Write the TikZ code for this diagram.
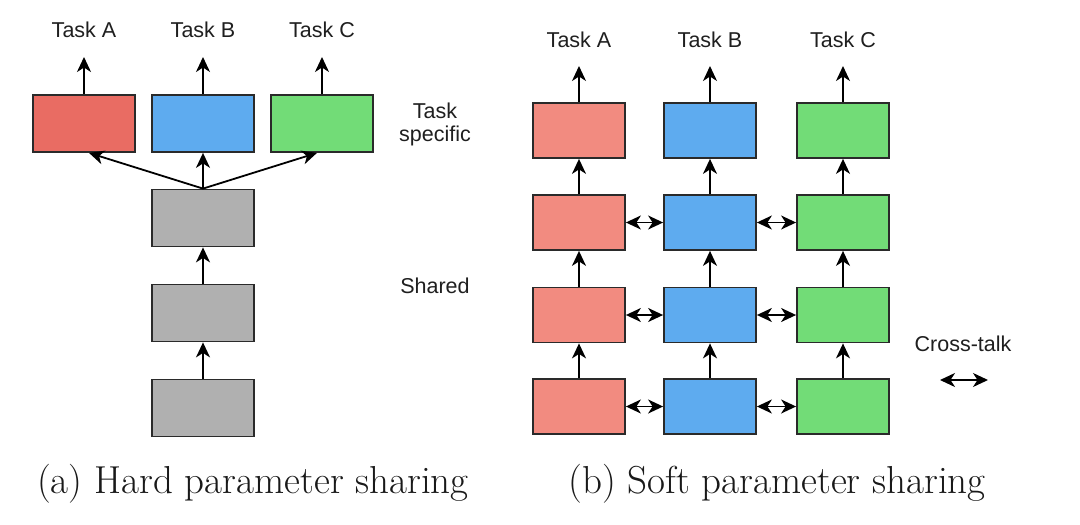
\documentclass[tikz,border=0pt]{standalone}
\usepackage{fontspec}
\setsansfont{Liberation Sans}
\usetikzlibrary{arrows.meta,calc}
\definecolor{hred}{HTML}{E96C63}
\definecolor{sred}{HTML}{F28B80}
\definecolor{cblue}{HTML}{5EABEF}
\definecolor{cgreen}{HTML}{72DC77}
\definecolor{cgray}{HTML}{B0B0B0}
\definecolor{edge}{HTML}{2A2A2A}
\begin{document}
\begin{tikzpicture}[x=1pt,y=-1pt,
  hbox/.style={draw=edge,line width=1.8pt,minimum width=102pt,minimum height=57pt,inner sep=0pt},
  sbox/.style={draw=edge,line width=1.8pt,minimum width=92pt,minimum height=55pt,inner sep=0pt},
  lab/.style={font=\sffamily\fontsize{21.5}{24}\selectfont,text=black!88,inner sep=0pt},
  captxt/.style={font=\fontsize{39}{44}\selectfont,text=black!90,inner sep=0pt},
  arr/.style={line width=1.8pt,-{Stealth[length=15pt,width=14pt,inset=4.5pt]}},
  darr/.style={line width=1.8pt,{Stealth[length=15pt,width=14pt,inset=4.5pt]}-{Stealth[length=15pt,width=14pt,inset=4.5pt]}}
]
\useasboundingbox[fill=white] (0,0) rectangle (1080,525);

% ---------- (a) hard sharing ----------
\node[hbox,fill=hred]   (ha) at (84,123.5) {};
\node[hbox,fill=cblue]  (hb) at (203,123.5) {};
\node[hbox,fill=cgreen] (hc) at (322,123.5) {};
\node[hbox,fill=cgray]  (g1) at (203,218) {};
\node[hbox,fill=cgray]  (g2) at (203,313) {};
\node[hbox,fill=cgray]  (g3) at (203,408) {};

\node[lab] (lta) at (84,30) {Task A};
\node[lab] (ltb) at (203,30) {Task B};
\node[lab] (ltc) at (322,30) {Task C};
\coordinate (ea) at (84,57);
\coordinate (eb) at (203,57);
\coordinate (ec) at (322,57);
\draw[arr] (ha.north) -- (ea);
\draw[arr] (hb.north) -- (eb);
\draw[arr] (hc.north) -- (ec);

\draw[arr] (g1.north) -- ($(ha.south)+(5,0)$);
\draw[arr] (g1.north) -- (hb.south);
\draw[arr] (g1.north) -- ($(hc.south)+(-5,0)$);
\draw[arr] (g2.north) -- (g1.south);
\draw[arr] (g3.north) -- (g2.south);

\node[lab,align=center] (tspec) at (435,124) {Task\\[-1pt]specific};
\node[lab] (shared) at (435,286) {Shared};

\node[captxt] (capa) at (253,484) {(a) Hard parameter sharing};

% ---------- (b) soft sharing ----------
\foreach \r/\y in {1/130.5,2/222.5,3/315,4/406.5}{
  \node[sbox,fill=sred]   (r\r) at (579,\y) {};
  \node[sbox,fill=cblue]  (b\r) at (710,\y) {};
  \node[sbox,fill=cgreen] (c\r) at (843,\y) {};
}
\node[lab] (sta) at (579,40) {Task A};
\node[lab] (stb) at (710,40) {Task B};
\node[lab] (stc) at (843,40) {Task C};
\coordinate (sa) at (579,66);
\coordinate (sb) at (710,66);
\coordinate (sc) at (843,66);
\draw[arr] (r1.north) -- (sa);
\draw[arr] (b1.north) -- (sb);
\draw[arr] (c1.north) -- (sc);

\foreach \lo/\hi in {2/1,3/2,4/3}{
  \draw[arr] (r\lo.north) -- (r\hi.south);
  \draw[arr] (b\lo.north) -- (b\hi.south);
  \draw[arr] (c\lo.north) -- (c\hi.south);
}
\foreach \r in {2,3,4}{
  \draw[darr] (r\r.east) -- (b\r.west);
  \draw[darr] (b\r.east) -- (c\r.west);
}

\node[lab] (ct) at (963,344) {Cross-talk};
\coordinate (ctl) at (940,380);
\coordinate (ctr) at (988,380);
\draw[darr] (ctl) -- (ctr);

\node[captxt] (capb) at (777,484) {(b) Soft parameter sharing};
\end{tikzpicture}
\end{document}
